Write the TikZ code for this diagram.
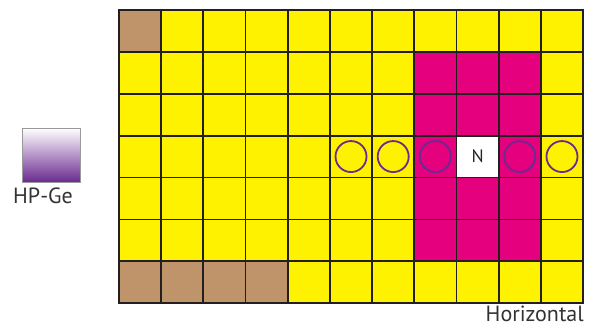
\documentclass[tikz,border=0pt]{standalone}
\usepackage{fontspec}
\setmainfont{PT Sans}
\definecolor{cyel}{HTML}{FFF200}
\definecolor{cmag}{HTML}{E5007E}
\definecolor{cbrn}{HTML}{C0946A}
\definecolor{cpur}{HTML}{6A2A90}
\definecolor{cedge}{HTML}{231F20}
\begin{document}
\begin{tikzpicture}[x=1pt,y=-1pt,
  cell/.style={draw=cedge,line width=1.8pt,minimum width=42.2pt,minimum height=41.9pt,inner sep=0pt,anchor=north west},
  ring/.style={draw=cpur,line width=1.8pt,circle,minimum size=31pt,inner sep=0pt},
  lab/.style={font=\fontsize{22}{26}\selectfont,text=black!80,inner sep=0pt}]
\useasboundingbox (0,0) rectangle (590,327);
\foreach \r in {0,...,6}{
  \foreach \c in {0,...,10}{
    \def\fillc{cyel}
    \ifnum\r=0 \ifnum\c=0 \def\fillc{cbrn}\fi\fi
    \ifnum\r=6 \ifnum\c<4 \def\fillc{cbrn}\fi\fi
    \ifnum\r>0 \ifnum\r<6 \ifnum\c>6 \ifnum\c<10 \def\fillc{cmag}\fi\fi\fi\fi
    \ifnum\r=3 \ifnum\c=8 \def\fillc{white}\fi\fi
    \node[cell,fill=\fillc] (c-\r-\c) at ({118+42.2*\c},{9+41.9*\r}) {};
  }
}
\node[font=\fontsize{18}{20}\selectfont,text=black!85] (n) at (c-3-8.center) {N};
\foreach \c in {5,6,7,9,10}{
  \node[ring] (r-\c) at (c-3-\c.center) {};
}
\node[draw=black!40,line width=0.8pt,top color=white,bottom color=cpur,minimum width=58pt,minimum height=54pt,inner sep=0pt] (det) at (51,155) {};
\node[lab,anchor=base west] (hp) at (13,203) {HP-Ge};
\node[lab,anchor=base east] (hz) at (584,321) {Horizontal};
\end{tikzpicture}
\end{document}
